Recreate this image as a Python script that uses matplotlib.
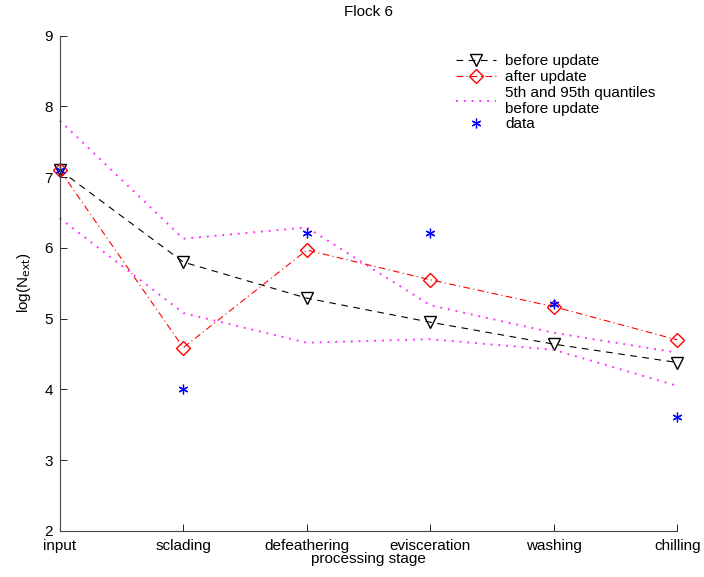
import numpy as np
import matplotlib as mpl
mpl.use('Agg')
import matplotlib.pyplot as plt

mpl.rc('font', family='Liberation Sans', size=11)

stages = ['input', 'sclading', 'defeathering', 'evisceration', 'washing', 'chilling']
before_update = [7.10, 5.80, 5.29, 4.95, 4.64, 4.38]
after_update = [7.10, 4.59, 5.97, 5.55, 5.17, 4.70]
q95_before = [7.80, 6.13, 6.29, 5.19, 4.80, 4.52]
q05_before = [6.42, 5.08, 4.66, 4.71, 4.56, 4.05]
data = [7.10, 4.00, 6.21, 6.21, 5.21, 3.61]

x = np.arange(len(stages))

fig = plt.figure(figsize=(7.04, 5.77), dpi=100)
ax = fig.add_axes([0.085, 0.080, 0.877, 0.858])

ax.plot(x, before_update, 'k--', marker='v', mfc='none', ms=8, lw=0.8,
        dashes=(6, 5), label='before update', clip_on=False)
ax.plot(x, after_update, 'r-.', marker='D', mfc='none', ms=7, lw=0.8,
        dashes=(6, 3, 1, 3), label='after update', clip_on=False)
ax.plot(x, q95_before, color='#ff33ff', lw=1.4, dashes=(1, 3),
        label='5th and 95th quantiles\nbefore update', clip_on=False)
ax.plot(x, q05_before, color='#ff33ff', lw=1.4, dashes=(1, 3), clip_on=False)
ax.plot(x, data, ls='none', marker=(6, 2, 0), color='b', ms=7, mew=0.9,
        label='data', clip_on=False)

ax.set_xlim(0, 5)
ax.set_ylim(2, 9)
ax.set_xticks(x)
ax.set_xticklabels(stages)
ax.set_yticks(range(2, 10))
ax.tick_params(direction='in', length=5, width=0.6)
ax.tick_params(axis='x', pad=6)
ax.tick_params(axis='y', pad=5)
for s in ['top', 'right']:
    ax.spines[s].set_visible(False)
for s in ['left', 'bottom']:
    ax.spines[s].set_linewidth(0.8)
    ax.spines[s].set_color('#444444')

ax.set_xlabel('processing stage', labelpad=-1)
ax.set_ylabel('log(N$_{\\mathrm{ext}}$)', labelpad=8)
ax.set_title('Flock 6', pad=14, fontsize=11)

ax.legend(loc='upper left', bbox_to_anchor=(0.62, 0.99), frameon=False,
          handlelength=2.6, handletextpad=0.6, labelspacing=0.1)

plt.savefig('out.png', dpi=100)
